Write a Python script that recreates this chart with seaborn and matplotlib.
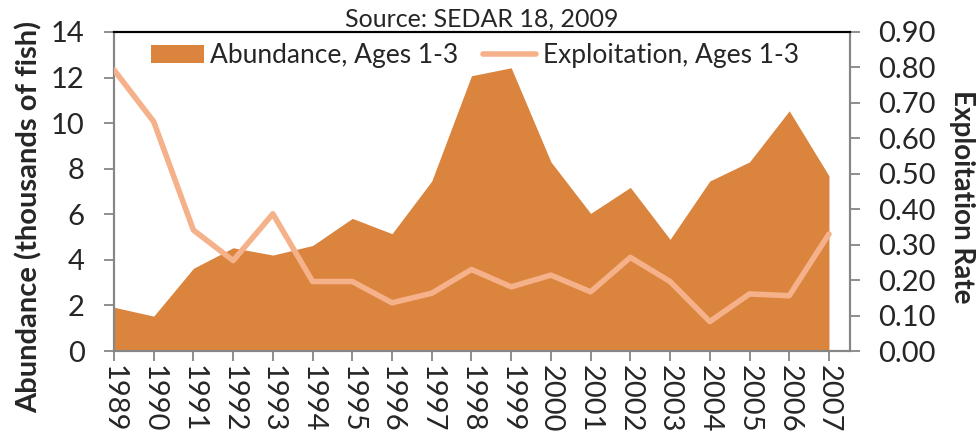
import matplotlib
matplotlib.use("Agg")
import matplotlib.pyplot as plt
import seaborn as sns
import pandas as pd
from matplotlib.lines import Line2D
from matplotlib.patches import Patch

years = [1989, 1990, 1991, 1992, 1993, 1994, 1995, 1996, 1997, 1998,
         1999, 2000, 2001, 2002, 2003, 2004, 2005, 2006, 2007]
abundance = [1.92, 1.53, 3.63, 4.53, 4.21, 4.63, 5.82, 5.15, 7.46, 12.08,
             12.43, 8.3, 6.04, 7.18, 4.9, 7.46, 8.3, 10.54, 7.69]
exploitation = [0.793, 0.647, 0.341, 0.255, 0.387, 0.196, 0.196, 0.136, 0.163, 0.23,
                0.181, 0.214, 0.167, 0.264, 0.196, 0.083, 0.161, 0.156, 0.33]
left_ticks = [0, 2, 4, 6, 8, 10, 12, 14]
right_ticks = [0.0, 0.1, 0.2, 0.3, 0.4, 0.5, 0.6, 0.7, 0.8, 0.9]

df = pd.DataFrame({"year": years, "abundance": abundance, "exploitation": exploitation})

sns.set_style("white")
plt.rcParams["font.family"] = ["Lato", "DejaVu Sans"]

area_color = "#DA843E"
line_color = "#F5B18A"
gray = "#868686"

fig = plt.figure(figsize=(9.8, 4.37), dpi=100)
ax = fig.add_axes([114/980, 1-351/437, (850-114)/980, (351-32)/437])
ax2 = ax.twinx()

ax.fill_between(df["year"], 0, df["abundance"], color=area_color, linewidth=0, zorder=1)
sns.lineplot(data=df, x="year", y="exploitation", ax=ax2, color=line_color,
             linewidth=4, zorder=3)

ax.set_xlim(1989, 2007.53)
ax.set_ylim(0, 14)
ax2.set_ylim(0, 0.9)
ax.set_yticks(left_ticks)
ax2.set_yticks(right_ticks)
ax2.set_yticklabels([f"{v:.2f}" for v in right_ticks])
ax.set_xticks(years)
ax.set_xticklabels([str(y) for y in years], rotation=-90)

fs = 21
ax.tick_params(axis="x", labelsize=fs, color=gray, length=7, width=1.3,
               direction="out", bottom=True, pad=3)
ax.tick_params(axis="y", labelsize=fs, color=gray, length=7, width=1.3,
               direction="out", left=True, pad=14)
ax2.tick_params(axis="y", labelsize=fs, color=gray, length=7, width=1.3,
                direction="out", right=True, pad=13)

for a in (ax, ax2):
    for side in ("left", "right", "bottom"):
        a.spines[side].set_color(gray)
        a.spines[side].set_linewidth(1.5)
    a.spines["top"].set_color("black")
    a.spines["top"].set_linewidth(1.5)

ax.set_xlabel("")
ax2.set_xlabel("")
ax.set_ylabel("Abundance (thousands of fish)", fontsize=21, fontweight="bold")
ax.yaxis.set_label_coords(-0.097, 0.42)
ax2.set_ylabel("Exploitation Rate", fontsize=20, fontweight="bold", rotation=-90,
               va="bottom")
ax2.yaxis.set_label_coords(1.135, 0.483)

ax.set_title("Source: SEDAR 18, 2009", fontsize=18, pad=4)

handles = [Patch(facecolor=area_color, edgecolor="none"),
           Line2D([0], [0], color=line_color, linewidth=4)]
ax2.legend(handles, ["Abundance, Ages 1-3", "Exploitation, Ages 1-3"],
           loc="upper left", bbox_to_anchor=(0.05, 0.965), ncol=2, frameon=False,
           fontsize=19, handlelength=2.0, handletextpad=0.25, columnspacing=0.95,
           borderaxespad=0, borderpad=0)
if ax.get_legend() is not None:
    ax.get_legend().remove()

fig.savefig("out.png", dpi=100)
